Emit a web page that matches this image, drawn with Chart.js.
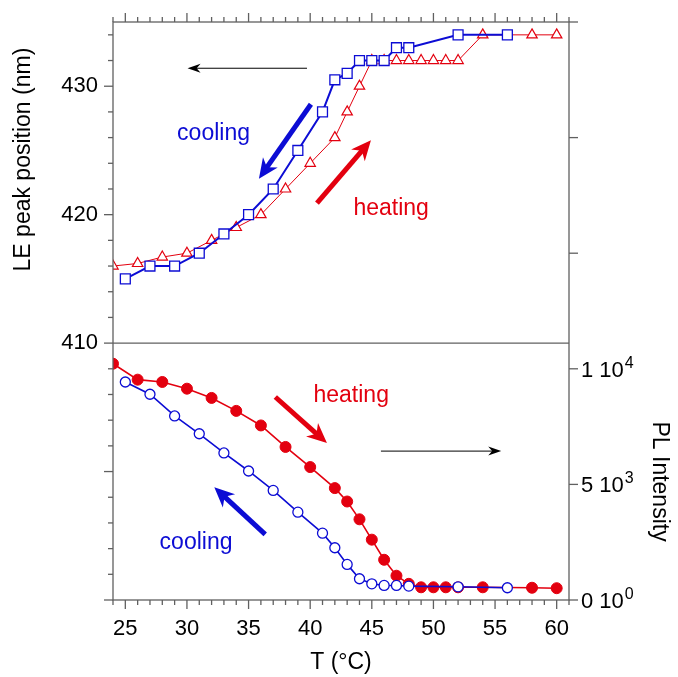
<!DOCTYPE html>
<html>
<head>
<meta charset="utf-8">
<script src="https://cdn.jsdelivr.net/npm/chart.js@4.4.1/dist/chart.umd.min.js"></script>
<style>
html, body { margin: 0; padding: 0; background: #fff; }
#wrap { width: 678px; height: 677px; }
</style>
</head>
<body>
<div id="wrap"><canvas id="myChart" width="678" height="677"></canvas></div>
<script>
'use strict';

// top panel: LE peak position (nm), left axis
var coolT = [25, 27, 29, 31, 33, 35, 37, 39, 41, 42, 43, 44, 45, 46, 47, 48, 52, 56];
var coolPeak = [415, 416, 416, 417, 418.5, 420, 422, 425, 428, 430.5, 431, 432, 432, 432, 433, 433, 434, 434];
var heatT = [24, 26, 28, 30, 32, 34, 36, 38, 40, 42, 43, 44, 45, 46, 47, 48, 49, 50, 51, 52, 54, 58, 60];
var heatPeak = [416, 416.2, 416.7, 417, 418, 419, 420, 422, 424, 426, 428, 430, 432, 432, 432, 432, 432, 432, 432, 432, 434, 434, 434];

// bottom panel: PL intensity, right axis
var coolPlT = [25, 27, 29, 31, 33, 35, 37, 39, 41, 42, 43, 44, 45, 46, 47, 48, 52, 56];
var coolPl = [9430, 8900, 7960, 7190, 6360, 5580, 4740, 3800, 2890, 2260, 1540, 920, 700, 630, 630, 600, 570, 530];
var heatPlT = [24, 26, 28, 30, 32, 34, 36, 38, 40, 42, 43, 44, 45, 46, 47, 48, 49, 50, 51, 52, 54, 58, 60];
var heatPl = [10220, 9530, 9430, 9140, 8740, 8180, 7550, 6620, 5750, 4840, 4260, 3490, 2610, 1740, 1050, 700, 550, 550, 550, 550, 550, 530, 510];

// tick labels
var tTicks = [25, 30, 35, 40, 45, 50, 55, 60];
var peakTicks = [410, 420, 430];
var plTicks = [0, 5000, 10000];

var blue = '#0c0cd4';
var red = '#e3000f';
var axisColor = '#606060';
var font = '"Liberation Sans", Arial, sans-serif';

// arrows + words, in data units (axis 'y' = peak, 'y2' = PL)
var notes = [
  { kind: 'arrow', axis: 'y', from: [39.74, 431.4], to: [30.05, 431.4], color: '#000', width: 1, head: 13, half: 4.5 },
  { kind: 'arrow', axis: 'y', from: [40.06, 428.6], to: [35.84, 422.8], color: blue, width: 5, head: 20, half: 9 },
  { kind: 'arrow', axis: 'y', from: [40.55, 420.9], to: [44.93, 425.8], color: red, width: 5, head: 20, half: 9 },
  { kind: 'text', axis: 'y', at: [32.16, 426.3], text: 'cooling', color: blue },
  { kind: 'text', axis: 'y', at: [46.57, 420.45], text: 'heating', color: red },
  { kind: 'arrow', axis: 'y2', from: [37.17, 8780], to: [41.36, 6790], color: red, width: 5, head: 20, half: 9 },
  { kind: 'arrow', axis: 'y2', from: [36.35, 2835], to: [32.22, 4880], color: blue, width: 5, head: 20, half: 9 },
  { kind: 'arrow', axis: 'y2', from: [45.74, 6440], to: [55.5, 6440], color: '#000', width: 1, head: 13, half: 4.5 },
  { kind: 'text', axis: 'y2', at: [43.33, 8850], text: 'heating', color: red },
  { kind: 'text', axis: 'y2', at: [30.74, 2500], text: 'cooling', color: blue }
];

function pairs(xs, ys) {
  return xs.map(function(x, i) { return { x: x, y: ys[i] }; });
}

// 5000 -> ['5', '3']  (drawn as "5 10^3")
function sci(v) {
  if (v === 0) return ['0', '0'];
  var e = Math.floor(Math.log10(v));
  return [String(Math.round(v / Math.pow(10, e))), String(e)];
}

function line(c, x1, y1, x2, y2) {
  c.beginPath(); c.moveTo(x1, y1); c.lineTo(x2, y2); c.stroke();
}

function arrow(c, x1, y1, x2, y2, n) {
  var dx = x2 - x1, dy = y2 - y1, len = Math.sqrt(dx * dx + dy * dy);
  var ux = dx / len, uy = dy / len, px = -uy, py = ux;
  c.strokeStyle = n.color; c.fillStyle = n.color; c.lineWidth = n.width;
  c.lineCap = 'butt';
  line(c, x1, y1, x2 - ux * n.head * 0.6, y2 - uy * n.head * 0.6);
  c.beginPath();
  c.moveTo(x2, y2);
  c.lineTo(x2 - ux * n.head + px * n.half, y2 - uy * n.head + py * n.half);
  c.lineTo(x2 - ux * n.head * 0.7, y2 - uy * n.head * 0.7);
  c.lineTo(x2 - ux * n.head - px * n.half, y2 - uy * n.head - py * n.half);
  c.closePath();
  c.fill();
}

var frame = {
  id: 'frame',
  afterDraw: function(chart) {
    var c = chart.ctx, a = chart.chartArea;
    var x = chart.scales.x, y = chart.scales.y, y2 = chart.scales.y2;
    c.save();
    c.strokeStyle = axisColor;
    c.lineWidth = 1.3;
    c.strokeRect(a.left, a.top, a.right - a.left, a.bottom - a.top);
    var yd = y.getPixelForValue(410);
    line(c, a.left, yd, a.right, yd);
    var t, L, p;
    for (t = 24; t <= 61; t++) {
      p = x.getPixelForValue(t);
      L = t % 5 === 0 ? 9 : 5;
      line(c, p, a.bottom, p, a.bottom + L);
      line(c, p, a.top, p, a.top - L);
    }
    for (t = 390; t <= 434; t += 2) {
      p = y.getPixelForValue(t);
      L = t % 10 === 0 ? 9 : 5;
      line(c, a.left - L, p, a.left, p);
    }
    for (t = 0; t <= 25000; t += 5000) {
      p = y2.getPixelForValue(t);
      line(c, a.right, p, a.right + 9, p);
    }

    // right tick labels with real superscripts
    c.fillStyle = '#000';
    c.textAlign = 'left';
    c.textBaseline = 'alphabetic';
    plTicks.forEach(function(v) {
      var parts = sci(v), py = y2.getPixelForValue(v), lx = a.right + 12;
      c.font = '22px ' + font;
      var base = parts[0] + ' 10';
      c.fillText(base, lx, py + 8);
      var w = c.measureText(base).width;
      c.font = '16px ' + font;
      c.fillText(parts[1], lx + w + 1, py - 1);
    });

    // axis titles
    c.font = '23px ' + font;
    c.textAlign = 'center';
    c.textBaseline = 'middle';
    c.save();
    c.translate(24, (y.getPixelForValue(435) + yd) / 2 - 23);
    c.rotate(-Math.PI / 2);
    c.fillText('LE peak position (nm)', 0, 0);
    c.restore();
    c.save();
    c.translate(659, (y2.getPixelForValue(0) + yd) / 2 + 10);
    c.rotate(Math.PI / 2);
    c.fillText('PL Intensity', 0, 0);
    c.restore();

    // annotations
    notes.forEach(function(n) {
      var ys = chart.scales[n.axis];
      if (n.kind === 'arrow') {
        arrow(c, x.getPixelForValue(n.from[0]), ys.getPixelForValue(n.from[1]),
          x.getPixelForValue(n.to[0]), ys.getPixelForValue(n.to[1]), n);
      } else {
        c.fillStyle = n.color;
        c.font = '23px ' + font;
        c.fillText(n.text, x.getPixelForValue(n.at[0]), ys.getPixelForValue(n.at[1]));
      }
    });
    c.restore();
  }
};

var ctx = document.getElementById('myChart').getContext('2d');

var chart = new Chart(ctx, {
  type: 'line',
  data: {
    datasets: [{
      label: 'cooling PL',
      data: pairs(coolPlT, coolPl),
      yAxisID: 'y2',
      borderColor: blue,
      backgroundColor: '#fff',
      borderWidth: 1.6,
      pointStyle: 'circle',
      pointRadius: 5,
      pointBorderWidth: 1.3
    },
    {
      label: 'cooling LE',
      data: pairs(coolT, coolPeak),
      yAxisID: 'y',
      borderColor: blue,
      backgroundColor: '#fff',
      borderWidth: 2,
      pointStyle: 'rect',
      pointRadius: 7,
      pointBorderWidth: 1.3
    },
    {
      label: 'heating PL',
      data: pairs(heatPlT, heatPl),
      yAxisID: 'y2',
      borderColor: red,
      backgroundColor: red,
      borderWidth: 1.6,
      pointStyle: 'circle',
      pointRadius: 5.5,
      pointBorderWidth: 1
    },
    {
      label: 'heating LE',
      data: pairs(heatT, heatPeak),
      yAxisID: 'y',
      borderColor: red,
      backgroundColor: '#fff',
      borderWidth: 1,
      pointStyle: 'triangle',
      pointRadius: 6,
      pointBorderWidth: 1.2
    }]
  },
  options: {
    responsive: false,
    animation: false,
    layout: { padding: { top: 22, left: 0, right: 0, bottom: 0 } },
    plugins: { legend: { display: false }, tooltip: { enabled: false } },
    elements: { line: { tension: 0 } },
    scales: {
      x: {
        type: 'linear',
        min: 24,
        max: 61,
        afterBuildTicks: function(s) { s.ticks = tTicks.map(function(v) { return { value: v }; }); },
        afterFit: function(s) { s.height = 77; },
        grid: { display: false, drawTicks: true, tickLength: 9 },
        border: { display: false },
        ticks: { color: '#000', font: { family: font, size: 22 }, padding: 7, maxRotation: 0 },
        title: { display: true, text: 'T (\u00b0C)', color: '#000', font: { family: font, size: 23 }, padding: { top: 0, bottom: 1 } }
      },
      y: {
        position: 'left',
        min: 390,
        max: 435,
        afterBuildTicks: function(s) { s.ticks = peakTicks.map(function(v) { return { value: v }; }); },
        afterFit: function(s) { s.width = 113; },
        grid: { display: false, drawTicks: true, tickLength: 9 },
        border: { display: false },
        ticks: { color: '#000', font: { family: font, size: 22 }, padding: 6 }
      },
      y2: {
        position: 'right',
        min: 0,
        max: 25000,
        afterBuildTicks: function(s) { s.ticks = plTicks.map(function(v) { return { value: v }; }); },
        afterFit: function(s) { s.width = 109; },
        grid: { display: false },
        border: { display: false },
        ticks: { display: false }
      }
    }
  },
  plugins: [frame]
});
</script>
</body>
</html>
